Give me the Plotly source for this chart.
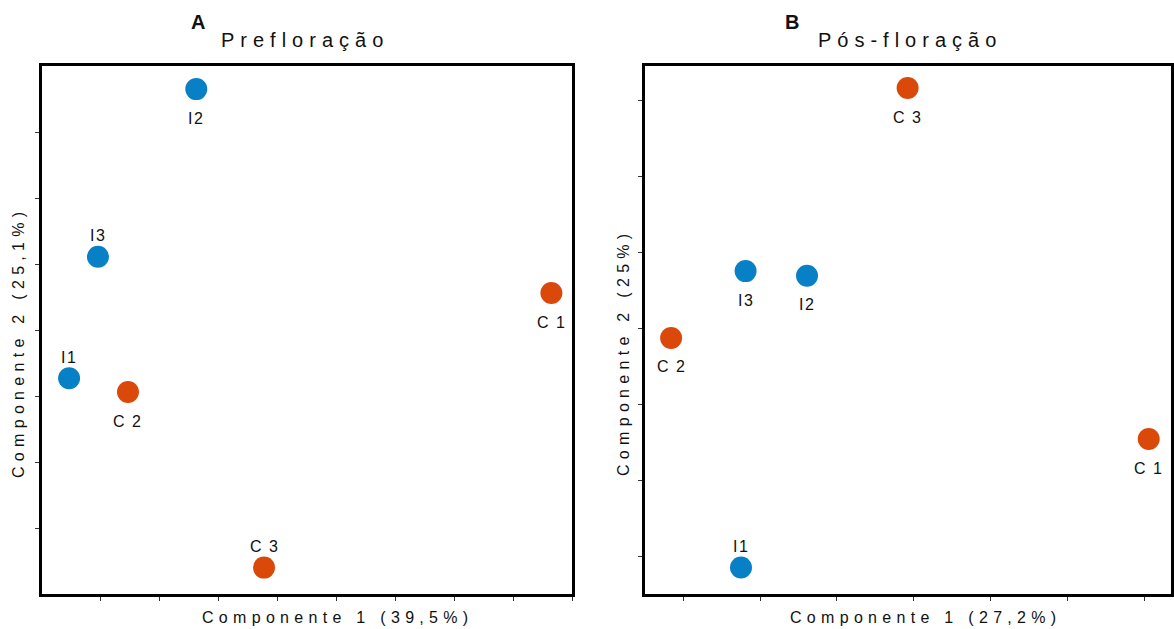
import plotly.graph_objects as go

# Scores of each sample on the first two principal components
pre_labels = ["I2", "I3", "C 1", "I1", "C 2", "C 3"]
pre_pc1 = [2.62, 0.95, 8.65, 0.46, 1.46, 3.77]
pre_pc2 = [7.65, 5.11, 4.56, 3.27, 3.06, 0.40]
pre_group = ["I", "I", "C", "I", "C", "C"]
pre_label_side = ["below", "above", "below", "above", "below", "above"]

pos_labels = ["C 3", "I3", "I2", "C 2", "C 1", "I1"]
pos_pc1 = [2.92, 0.81, 1.61, -0.16, 6.06, 0.75]
pos_pc2 = [6.17, 3.76, 3.70, 2.88, 1.55, -0.14]
pos_group = ["C", "I", "I", "C", "C", "I"]
pos_label_side = ["below", "below", "below", "below", "below", "above"]

group_colors = {"I": "#0880c6", "C": "#da490a"}

FONT = "Liberation Sans, Arial, sans-serif"
INK = "#111111"


def spaced(text, px):
    return f'<span style="letter-spacing:{px}px">{text}</span>'


fig = go.Figure()

panels = [
    (pre_pc1, pre_pc2, pre_group, pre_labels, pre_label_side, "x", "y"),
    (pos_pc1, pos_pc2, pos_group, pos_labels, pos_label_side, "x2", "y2"),
]

annotations = []
for xs, ys, groups, labels, sides, xa, ya in panels:
    fig.add_trace(go.Scatter(
        x=xs, y=ys, mode="markers",
        marker=dict(size=22, color=[group_colors[g] for g in groups], line=dict(width=0)),
        xaxis=xa, yaxis=ya, showlegend=False, cliponaxis=False, hoverinfo="skip",
    ))
    # sample names just above or below each point
    for x, y, lab, side in zip(xs, ys, labels, sides):
        annotations.append(dict(
            x=x, y=y, xref=xa, yref=ya, text=spaced(lab, 1.5), showarrow=False,
            xanchor="center", yanchor="middle",
            yshift=-29 if side == "below" else 21,
            font=dict(family=FONT, size=16, color=INK),
        ))

axis_common = dict(
    showgrid=False, zeroline=False, showticklabels=False,
    showline=True, linecolor="black", linewidth=3, mirror=True,
    ticks="outside", ticklen=4, tickwidth=1, tickcolor="#333333",
)

W, H = 1174, 629
ybot, ytop = (H - 594) / H, (H - 66) / H

fig.update_layout(
    width=W, height=H,
    margin=dict(l=0, r=0, t=0, b=0),
    paper_bgcolor="white", plot_bgcolor="white",
    font=dict(family=FONT, color=INK),
    xaxis=dict(domain=[42 / W, 572 / W], range=[0, 9], tickvals=list(range(1, 10)), **axis_common),
    yaxis=dict(domain=[ybot, ytop], range=[0, 8], tickvals=list(range(1, 8)), **axis_common),
    xaxis2=dict(domain=[645 / W, 1171 / W], range=[-0.5, 6.35], tickvals=list(range(0, 7)),
                anchor="y2", **axis_common),
    yaxis2=dict(domain=[ybot, ytop], range=[-0.49, 6.46], tickvals=list(range(0, 7)),
                anchor="x2", **axis_common),
)

paper_text = [
    # panel letters and titles
    dict(x=198, y=22, text="<b>A</b>", font=dict(size=20)),
    dict(x=305, y=40, text=spaced("Prefloração", 6), font=dict(size=20)),
    dict(x=792, y=22, text="<b>B</b>", font=dict(size=20)),
    dict(x=910, y=40, text=spaced("Pós-floração", 6), font=dict(size=20)),
    # axis titles
    dict(x=337, y=617, text=spaced("Componente 1 (39,5%)", 5.3), font=dict(size=16)),
    dict(x=926, y=617, text=spaced("Componente 1 (27,2%)", 5.3), font=dict(size=16)),
    dict(x=18, y=343, text=spaced("Componente 2 (25,1%)", 5.3), font=dict(size=16), textangle=-90),
    dict(x=623, y=352, text=spaced("Componente 2 (25%)", 5.3), font=dict(size=16), textangle=-90),
]
for a in paper_text:
    a.update(x=a["x"] / W, y=1 - a["y"] / H, xref="paper", yref="paper",
             showarrow=False, xanchor="center", yanchor="middle")
    a["font"].update(family=FONT, color=INK)
    annotations.append(a)

fig.update_layout(annotations=annotations)

fig.write_html("out.html")
